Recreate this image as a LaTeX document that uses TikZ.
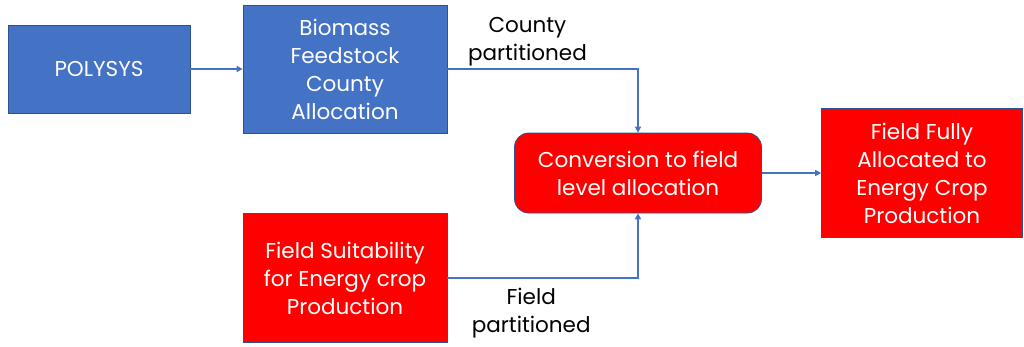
\documentclass[tikz,border=0pt]{standalone}
\usepackage{fontspec}
\setmainfont{Poppins}
\usetikzlibrary{positioning, arrows.meta}
\definecolor{boxblue}{RGB}{68,114,196}
\definecolor{edgeblue}{RGB}{47,82,143}
\definecolor{linkblue}{RGB}{68,114,196}
\definecolor{boxred}{RGB}{255,0,0}
\begin{document}
\begin{tikzpicture}[x=1pt, y=-1pt,
            every node/.style={align=center, font=\fontsize{21.5}{28}\selectfont},
            bluebox/.style={draw=edgeblue, line width=0.7pt, fill=boxblue, text=white, inner sep=0pt},
            redbox/.style={draw=edgeblue, line width=0.7pt, fill=boxred, text=white, inner sep=0pt},
            link/.style={-{Triangle[length=6pt,width=6pt]}, draw=linkblue, line width=1.6pt},
            tag/.style={text=black, inner sep=2pt}]
        \useasboundingbox (0,0) rectangle (1024,346);

        \node[bluebox, minimum width=182pt, minimum height=88pt] (poly) at (99,69) {POLYSYS};
        \node[bluebox, minimum width=204pt, minimum height=128pt] (biomass) at (345,69) {Biomass\\Feedstock\\County\\Allocation};
        \node[redbox, rounded corners=14pt, minimum width=247pt, minimum height=80pt] (convert) at (638,173) {Conversion to field\\level allocation};
        \node[redbox, minimum width=204pt, minimum height=129pt] (suit) at (345,278) {Field Suitability\\for Energy crop\\Production};
        \node[redbox, minimum width=201pt, minimum height=129pt] (full) at (922,173) {Field Fully\\Allocated to\\Energy Crop\\Production};

        \draw[link] (poly) -- (biomass);
        \draw[link] (biomass) -| node[tag, pos=0.21, anchor=south] {County\\partitioned} (convert);
        \draw[link] (suit) -| node[tag, pos=0.22, anchor=north, yshift=-7pt] {Field\\partitioned} (convert);
        \draw[link] (convert) -- (full);
    \end{tikzpicture}
\end{document}
